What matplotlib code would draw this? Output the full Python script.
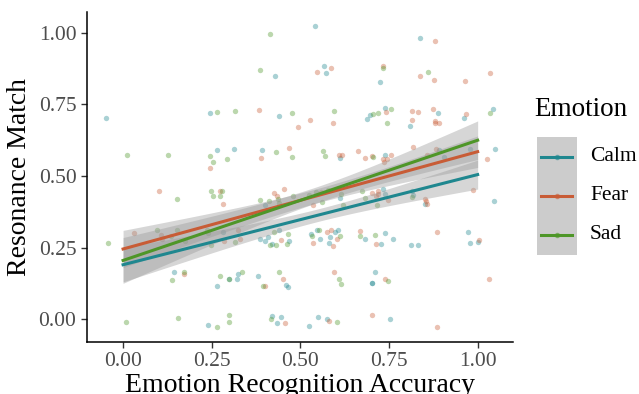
import numpy as np
import matplotlib
matplotlib.use("Agg")
import matplotlib.pyplot as plt
from matplotlib.lines import Line2D
from matplotlib.patches import Rectangle

plt.rcParams["font.family"] = ["Liberation Serif", "DejaVu Serif"]

# ---------------------------------------------------------------------------
# Data
# ---------------------------------------------------------------------------
emotions = ["Calm", "Fear", "Sad"]
colors = {"Calm": "#1F878F", "Fear": "#C85C36", "Sad": "#4E9628"}

calm_x = [-0.047, 0.244, 0.264, 0.541, 0.429, 0.567, 0.573, 0.439, 0.695, 0.689, 0.314, 0.393, 0.612,
          0.836, 0.724, 0.740, 0.887, 0.810, 0.961, 1.042, 0.890, 0.906, 0.979, 1.049, 0.738,
          0.282, 0.144, 0.265, 0.240,
          0.400, 0.612, 0.387, 0.400, 0.410, 0.419, 0.439, 0.469, 0.530, 0.547, 0.556, 0.597, 0.607,
          0.584, 0.580, 0.682, 0.299, 0.321, 0.323, 0.381, 0.460, 0.465, 0.701, 0.420, 0.444, 0.435,
          0.524, 0.549, 0.576,
          1.047, 0.852, 0.819, 0.814, 0.732, 0.740, 0.740, 0.760, 0.727, 0.811, 0.831, 0.973, 1.000,
          0.977, 0.710, 0.703, 0.752]
calm_y = [0.703, 0.721, 0.592, 1.023, 0.848, 0.885, 0.859, 0.709, 0.714, 0.700, 0.593, 0.591, 0.564,
          0.981, 0.829, 0.737, 0.720, 0.675, 0.702, 0.734, 0.592, 0.568, 0.596, 0.593, 0.574,
          0.306, 0.163, 0.117, -0.020,
          0.400, 0.424, 0.281, 0.274, 0.286, 0.264, 0.310, 0.272, 0.296, 0.312, 0.281, 0.304, 0.312,
          0.286, 0.266, 0.281, 0.141, 0.141, 0.158, 0.149, 0.120, 0.113, 0.126, 0.012, 0.009, -0.014,
          -0.024, 0.008, 0.000,
          0.413, 0.401, 0.435, 0.449, 0.456, 0.436, 0.301, 0.281, 0.261, 0.259, 0.259, 0.305, 0.268,
          0.267, 0.163, 0.126, 0.001]

fear_x = [0.244, 0.585, 0.546, 0.382, 0.527, 0.591, 0.492, 0.467, 0.388, 0.609, 0.617, 0.662, 0.681, 0.702,
          0.879, 0.733, 0.836, 0.877, 0.964, 1.035, 0.742, 0.815, 0.832, 0.874, 0.816, 0.879, 0.879,
          0.891, 0.967, 0.819, 0.882, 0.857, 1.027, 0.757, 0.733, 0.744, 0.736,
          0.102, 0.273, 0.282, 0.030, 0.107, 0.110, 0.284, 0.171,
          0.425, 0.434, 0.453, 0.559, 0.535, 0.323, 0.331, 0.444, 0.536, 0.574, 0.585, 0.604, 0.593,
          0.669, 0.450, 0.400, 0.596, 0.458, 0.581, 0.701,
          0.988, 0.851, 0.854, 0.856, 0.718, 0.719, 0.712, 0.746, 0.702, 0.712, 0.885, 1.003, 0.738,
          1.033, 0.886]
fear_y = [0.528, 0.878, 0.863, 0.729, 0.694, 0.686, 0.670, 0.598, 0.563, 0.574, 0.574, 0.586, 0.563, 0.570,
          0.972, 0.885, 0.850, 0.834, 0.832, 0.860, 0.725, 0.728, 0.724, 0.734, 0.696, 0.691, 0.684,
          0.686, 0.716, 0.600, 0.596, 0.574, 0.558, 0.572, 0.559, 0.558, 0.549,
          0.449, 0.448, 0.401, 0.302, 0.295, 0.280, 0.272, 0.156,
          0.439, 0.431, 0.453, 0.443, 0.397, 0.312, 0.281, 0.276, 0.265, 0.306, 0.310, 0.279, 0.255,
          0.308, 0.139, 0.114, 0.166, -0.012, -0.005, 0.016,
          0.452, 0.421, 0.413, 0.401, 0.448, 0.438, 0.431, 0.415, 0.441, 0.264, 0.305, 0.277, 0.140,
          0.141, -0.028]

sad_x = [0.266, 0.011, 0.128, 0.245, 0.294, 0.253,
         0.413, 0.387, 0.317, 0.475, 0.595, 0.430, 0.475, 0.564, 0.570,
         0.732, 0.861, 0.757, 0.718, 0.706, 0.743, 1.035, 0.706,
         -0.042, 0.151, 0.249, 0.254, 0.273, 0.278, 0.096, 0.134, 0.153, 0.174, 0.237, 0.239, 0.249,
         0.139, 0.173, 0.272, 0.298, 0.009, 0.154, 0.264, 0.298, 0.298,
         0.385, 0.412, 0.438, 0.441, 0.478, 0.523, 0.544, 0.577, 0.615, 0.561, 0.621, 0.675, 0.681,
         0.315, 0.414, 0.431, 0.427, 0.465, 0.462, 0.534, 0.552, 0.613, 0.668, 0.335, 0.441, 0.395,
         0.610, 0.614, 0.416, 0.602,
         0.815, 0.715, 0.710, 0.748]
sad_y = [0.724, 0.574, 0.574, 0.571, 0.558, 0.548,
         0.997, 0.872, 0.726, 0.721, 0.726, 0.583, 0.566, 0.586, 0.570,
         0.879, 0.863, 0.735, 0.721, 0.718, 0.685, 0.719, 0.565,
         0.266, 0.418, 0.446, 0.430, 0.429, 0.448, 0.310, 0.289, 0.310, 0.273, 0.310, 0.301, 0.260,
         0.135, 0.164, 0.149, 0.141, -0.010, 0.005, -0.027, 0.015, -0.010,
         0.415, 0.411, 0.420, 0.406, 0.429, 0.432, 0.444, 0.452, 0.436, 0.409, 0.397, 0.448, 0.424,
         0.268, 0.260, 0.260, 0.304, 0.298, 0.264, 0.289, 0.312, 0.289, 0.289, 0.163, 0.166, 0.115,
         0.139, 0.124, 0.002, -0.010,
         0.425, 0.397, 0.295, 0.134]

points = {"Calm": (calm_x, calm_y), "Fear": (fear_x, fear_y), "Sad": (sad_x, sad_y)}

# linear fit: value at x=0, value at x=1
fit_at0 = {"Calm": 0.190, "Fear": 0.245, "Sad": 0.205}
fit_at1 = {"Calm": 0.505, "Fear": 0.585, "Sad": 0.625}
# confidence band half-widths: at x=0 and at the narrowest point
band_hw0 = {"Calm": 0.060, "Fear": 0.065, "Sad": 0.080}
band_hwmin = {"Calm": 0.022, "Fear": 0.025, "Sad": 0.028}
band_center = 0.55

# ---------------------------------------------------------------------------
# Plot
# ---------------------------------------------------------------------------
fig = plt.figure(figsize=(6.39, 3.94), dpi=100)
ax = fig.add_axes([0.136, 0.132, 0.667, 0.8375])

for emo in emotions:
    xs, ys = points[emo]
    ax.scatter(xs, ys, s=15, color=colors[emo], alpha=0.38, linewidths=0, zorder=2)

xx = np.linspace(0, 1, 100)
for emo in emotions:
    k = np.sqrt((band_hw0[emo] ** 2 - band_hwmin[emo] ** 2) / band_center ** 2)
    hw = np.sqrt(band_hwmin[emo] ** 2 + (k * (xx - band_center)) ** 2)
    yy = fit_at0[emo] + (fit_at1[emo] - fit_at0[emo]) * xx
    ax.fill_between(xx, yy - hw, yy + hw, color="#999999", alpha=0.4, linewidth=0, zorder=3)
for emo in emotions:
    yy = fit_at0[emo] + (fit_at1[emo] - fit_at0[emo]) * xx
    ax.plot(xx, yy, color=colors[emo], lw=2.2, zorder=4)

ax.set_xlim(-0.102, 1.10)
ax.set_ylim(-0.080, 1.073)
ticks = [0.0, 0.25, 0.5, 0.75, 1.0]
ax.set_xticks(ticks)
ax.set_yticks(ticks)
ax.set_xticklabels([f"{t:.2f}" for t in ticks])
ax.set_yticklabels([f"{t:.2f}" for t in ticks])
ax.tick_params(labelsize=15.5, colors="#333333", labelcolor="#4D4D4D", length=4, width=1)
for side in ["top", "right"]:
    ax.spines[side].set_visible(False)
for side in ["left", "bottom"]:
    ax.spines[side].set_linewidth(1.1)
    ax.spines[side].set_color("black")

ax.set_xlabel("Emotion Recognition Accuracy", fontsize=20, labelpad=1)
ax.set_ylabel("Resonance Match", fontsize=20, labelpad=5)

# legend, drawn in figure pixels
W, H = 639, 394
fig.text(534 / W, 1 - 110 / H, "Emotion", fontsize=19.5, ha="left", va="center")
fig.add_artist(Rectangle((537 / W, 1 - 255 / H), 40 / W, 118 / H,
                         transform=fig.transFigure, facecolor="#CCCCCC", edgecolor="none"))
for i, emo in enumerate(emotions):
    yk = 1 - (157 + 39 * i) / H
    fig.add_artist(Line2D([541 / W, 572 / W], [yk, yk], transform=fig.transFigure,
                          color=colors[emo], lw=2.2))
    fig.add_artist(Line2D([556.5 / W], [yk], transform=fig.transFigure, marker="o", ms=3,
                          color=colors[emo], alpha=0.5, lw=0))
    fig.text(590 / W, yk, emo, fontsize=15.5, ha="left", va="center")

fig.savefig("out.png", dpi=100)
